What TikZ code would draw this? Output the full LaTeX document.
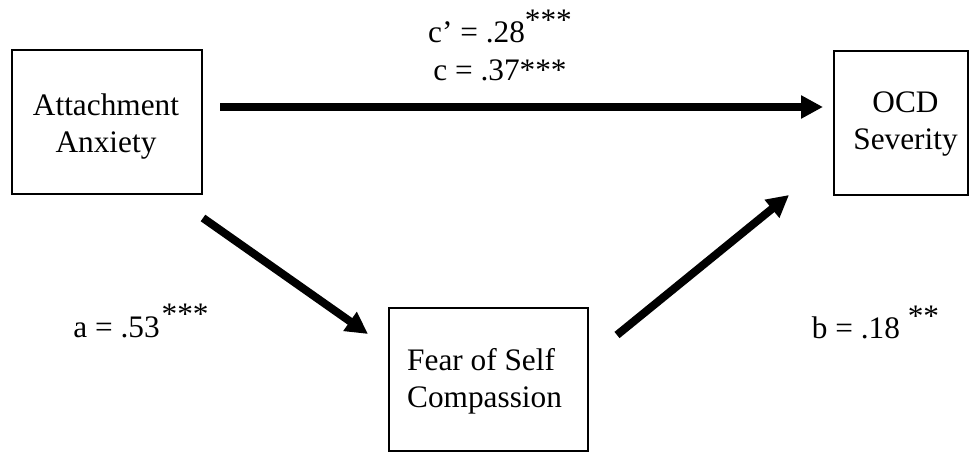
\documentclass[tikz,border=0pt]{standalone}
\usepackage{fontspec}
\setmainfont{Liberation Serif}
\usetikzlibrary{arrows.meta}
\begin{document}
\begin{tikzpicture}[x=1pt,y=-1pt,
  box/.style={draw=black, line width=1.5pt, rectangle, inner sep=0pt},
  lbl/.style={font=\fontsize{31.3}{37}\selectfont, inner sep=0pt},
  conn/.style={line width=8pt, -{Triangle[length=22pt,width=22pt]}}]
\fill[white] (0,0) rectangle (971,452);
\useasboundingbox (0,0) rectangle (971,452);
% boxes
\node[box, minimum width=190pt, minimum height=144pt] (att) at (107,122) {};
\node[box, minimum width=134pt, minimum height=144pt] (ocd) at (901,123) {};
\node[box, minimum width=199pt, minimum height=143pt] (fear) at (488.5,379.5) {};
% box texts
\node[lbl, align=center] (attT) at (106,126.2) {Attachment\\Anxiety};
\node[lbl, align=center] (ocdT) at (905.5,124.5) {OCD\\Severity};
\node[lbl, align=left, anchor=west] (fearT) at (407,381.2) {Fear of Self\\Compassion};
% path labels
\node[lbl, anchor=base] (cp) at (500,43) {c’ = .28\raisebox{13pt}{***}};
\node[lbl, anchor=base] (c) at (500,81) {c = .37***};
\node[lbl, anchor=base] (a) at (141,337) {a = .53\raisebox{13pt}{\kern2pt***}};
\node[lbl, anchor=base] (b) at (875.5,338) {b = .18 \raisebox{12pt}{**}};
% connector ends
\coordinate (t1) at (220,107);
\coordinate (t2) at (823,107);
\coordinate (d1) at (203,218);
\coordinate (d2) at (368,334);
\coordinate (e1) at (617,335);
\coordinate (e2) at (789,195);
\draw[conn] (t1) -- (t2);
\draw[conn] (d1) -- (d2);
\draw[conn] (e1) -- (e2);
\end{tikzpicture}
\end{document}
